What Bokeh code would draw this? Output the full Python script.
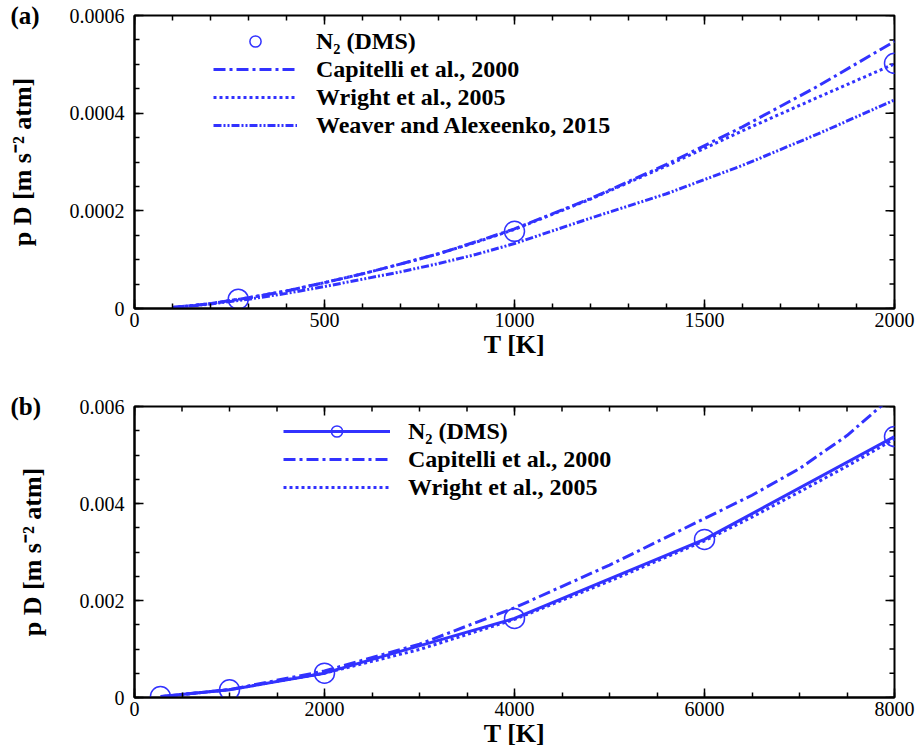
import math
from bokeh.plotting import figure
from bokeh.models import FixedTicker, Legend, LegendItem, Range1d, Title
from bokeh.layouts import column
from bokeh.embed import file_html
from bokeh.resources import INLINE

# ---------------- Panel (a) data ----------------
a_T = [100, 200, 300, 400, 500, 600, 700, 800, 900, 1000, 1200, 1400, 1600, 1800, 2000]
a_capitelli = [2.0e-6, 1.0e-5, 2.2e-5, 3.6e-5, 5.3e-5, 7.1e-5, 9.1e-5, 1.12e-4, 1.37e-4,
               1.63e-4, 2.25e-4, 2.95e-4, 3.72e-4, 4.56e-4, 5.47e-4]
a_wright = [2.0e-6, 1.0e-5, 2.2e-5, 3.6e-5, 5.3e-5, 7.1e-5, 9.1e-5, 1.12e-4, 1.36e-4,
            1.62e-4, 2.24e-4, 2.92e-4, 3.64e-4, 4.33e-4, 5.01e-4]
a_weaver = [2.0e-6, 9.0e-6, 1.9e-5, 3.1e-5, 4.5e-5, 6.0e-5, 7.5e-5, 9.2e-5, 1.11e-4,
            1.33e-4, 1.85e-4, 2.35e-4, 2.93e-4, 3.58e-4, 4.27e-4]
a_dms_T = [273, 1000, 2000]
a_dms = [1.9e-5, 1.58e-4, 5.02e-4]

a_xticks = [0, 500, 1000, 1500, 2000]
a_xlabels = ["0", "500", "1000", "1500", "2000"]
a_yticks = [0, 0.0002, 0.0004, 0.0006]
a_ylabels = ["0", "0.0002", "0.0004", "0.0006"]

# ---------------- Panel (b) data ----------------
b_dms_T = [273, 1000, 2000, 4000, 6000, 8000]
b_dms = [1.9e-5, 1.58e-4, 5.02e-4, 1.63e-3, 3.26e-3, 5.38e-3]
b_T = [300, 1000, 2000, 3000, 4000, 5000, 6000, 6500, 7000, 7500, 8000]
b_capitelli = [2.2e-5, 1.63e-4, 5.47e-4, 1.10e-3, 1.85e-3, 2.73e-3, 3.69e-3, 4.17e-3,
               4.72e-3, 5.40e-3, 6.25e-3]
b_wright = [2.2e-5, 1.62e-4, 5.01e-4, 9.9e-4, 1.61e-3, 2.40e-3, 3.23e-3, 3.72e-3,
            4.24e-3, 4.77e-3, 5.33e-3]

b_xticks = [0, 2000, 4000, 6000, 8000]
b_xlabels = ["0", "2000", "4000", "6000", "8000"]
b_yticks = [0, 0.002, 0.004, 0.006]
b_ylabels = ["0", "0.002", "0.004", "0.006"]

labels_a = ["N\u2082 (DMS)", "Capitelli et al., 2000", "Wright et al., 2005",
            "Weaver and Alexeenko, 2015"]
labels_b = ["N\u2082 (DMS)", "Capitelli et al., 2000", "Wright et al., 2005"]
panel_tags = ["(a)", "(b)"]

BLUE = "#3232ff"
SERIF = "Liberation Serif"
LW = 3


def frange(a, b, step):
    out = []
    v = a
    while v <= b + 1e-12:
        out.append(round(v, 10))
        v += step
    return out


def make_fig(height, xr, yr, xticks, xlabels, xminor, yticks, ylabels, yminor,
             top_border, bottom_border, tag):
    p = figure(width=919, height=height, x_range=Range1d(*xr), y_range=Range1d(*yr),
               output_backend="svg", toolbar_location=None,
               min_border_left=134, min_border_right=25,
               min_border_top=top_border, min_border_bottom=bottom_border)
    p.grid.visible = False
    p.outline_line_color = "black"
    p.outline_line_width = 2
    p.background_fill_color = "white"
    p.border_fill_color = "white"

    xt = FixedTicker(ticks=xticks, minor_ticks=xminor)
    yt = FixedTicker(ticks=yticks, minor_ticks=yminor)
    xa = p.xaxis[0]
    ya = p.yaxis[0]
    xa.ticker = xt
    xa.major_label_overrides = dict(zip(xticks, xlabels))
    ya.ticker = yt
    ya.major_label_overrides = dict(zip(yticks, ylabels))

    for ax in [xa, ya]:
        ax.axis_line_width = 2
        ax.axis_line_color = "black"
        ax.major_tick_in = 9
        ax.major_tick_out = 0
        ax.minor_tick_in = 5
        ax.minor_tick_out = 0
        ax.major_tick_line_width = 1.5
        ax.minor_tick_line_width = 1.5
        ax.major_tick_line_color = "black"
        ax.minor_tick_line_color = "black"
        ax.major_label_text_font = SERIF
        ax.major_label_text_color = "black"
        ax.major_label_text_font_size = "20px"
        ax.axis_label_text_font = SERIF
        ax.axis_label_text_font_style = "bold"
        ax.axis_label_text_font_size = "26px"
        ax.axis_label_text_color = "black"
    xa.major_label_standoff = 4
    ya.major_label_standoff = 10
    xa.axis_label = "T [K]"
    xa.axis_label_standoff = 0
    ya.axis_label = "p D [m s\u207b\u00b2 atm]"
    ya.axis_label_standoff = 30

    # mirrored inward ticks on the top and right edges (outer half clipped by the frame)
    ymax, xmax = yr[1], xr[1]
    p.scatter(xticks, [ymax] * len(xticks), marker="dash", size=18, angle=math.pi / 2,
              line_color="black", line_width=1.5)
    p.scatter(xminor, [ymax] * len(xminor), marker="dash", size=10, angle=math.pi / 2,
              line_color="black", line_width=1.5)
    p.scatter([xmax] * len(yticks), yticks, marker="dash", size=18,
              line_color="black", line_width=1.5)
    p.scatter([xmax] * len(yminor), yminor, marker="dash", size=10,
              line_color="black", line_width=1.5)

    # panel tag "(a)"/"(b)" placed at the upper-left, level with the frame top
    p.add_layout(Title(text=tag, align="left", offset=-124, standoff=-26,
                       vertical_align="bottom", text_font=SERIF, text_font_style="bold",
                       text_font_size="25px", text_color="black"), "above")
    return p


def style_legend(leg, glyph_w, standoff):
    leg.label_text_font = SERIF
    leg.label_text_font_style = "bold"
    leg.label_text_font_size = "24px"
    leg.label_text_color = "black"
    leg.glyph_width = glyph_w
    leg.glyph_height = 28
    leg.label_height = 28
    leg.label_standoff = standoff
    leg.spacing = 0
    leg.padding = 0
    leg.margin = 0
    leg.border_line_color = None
    leg.background_fill_alpha = 0


# ---------------- Figure (a) ----------------
pa = make_fig(390, (0, 2000), (0, 0.0006), a_xticks, a_xlabels,
              frange(0, 2000, 100), a_yticks, a_ylabels, frange(0, 0.0006, 0.00005),
              15, 82, panel_tags[0])

ra_cap = pa.line(a_T, a_capitelli, line_color=BLUE, line_width=LW, line_dash="12 4 3 4")
ra_wri = pa.line(a_T, a_wright, line_color=BLUE, line_width=LW, line_dash="3 3")
ra_wea = pa.line(a_T, a_weaver, line_color=BLUE, line_width=LW, line_dash="8 2 2 2 2 2")
ra_dms = pa.scatter(a_dms_T, a_dms, marker="circle", size=20, fill_color=None,
                    line_color=BLUE, line_width=1.5)

leg_a = Legend(items=[LegendItem(label=labels_a[0], renderers=[ra_dms]),
                      LegendItem(label=labels_a[1], renderers=[ra_cap]),
                      LegendItem(label=labels_a[2], renderers=[ra_wri]),
                      LegendItem(label=labels_a[3], renderers=[ra_wea])],
               location=(79, 169))
style_legend(leg_a, 84, 19)
pa.add_layout(leg_a)

# ---------------- Figure (b) ----------------
pb = make_fig(360, (0, 8000), (0, 0.006), b_xticks, b_xlabels,
              frange(0, 8000, 500), b_yticks, b_ylabels, frange(0, 0.006, 0.0005),
              16, 50, panel_tags[1])

rb_dms_l = pb.line(b_dms_T, b_dms, line_color=BLUE, line_width=LW)
rb_cap = pb.line(b_T, b_capitelli, line_color=BLUE, line_width=LW, line_dash="12 4 3 4")
rb_wri = pb.line(b_T, b_wright, line_color=BLUE, line_width=LW, line_dash="3 3")
rb_dms = pb.scatter(b_dms_T, b_dms, marker="circle", size=20, fill_color=None,
                    line_color=BLUE, line_width=1.5)

leg_b = Legend(items=[LegendItem(label=labels_b[0], renderers=[rb_dms_l, rb_dms]),
                      LegendItem(label=labels_b[1], renderers=[rb_cap]),
                      LegendItem(label=labels_b[2], renderers=[rb_wri])],
               location=(149, 196))
style_legend(leg_b, 107, 18)
pb.add_layout(leg_b)

layout = column(pa, pb, spacing=0)
open("out.html", "w").write(file_html(layout, INLINE))
